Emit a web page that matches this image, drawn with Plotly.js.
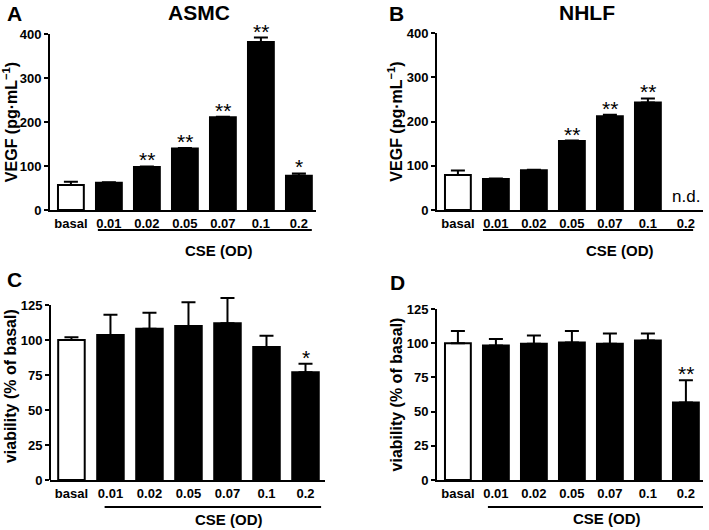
<!DOCTYPE html>
<html>
<head>
<meta charset="utf-8">
<script src="https://cdn.plot.ly/plotly-3.0.1.min.js"></script>
<style>html,body{margin:0;padding:0;background:#fff;}#chart{width:709px;height:530px;}</style>
</head>
<body>
<div id="chart"></div>
<script>
// ---- data ----
const categories = ['basal', '0.01', '0.02', '0.05', '0.07', '0.1', '0.2'];

const asmcVegf = [57, 62, 98, 140, 211, 382, 78];
const asmcVegfSem = [7, 1, 1, 1, 1, 10, 5];
const asmcVegfSig = ['', '', '**', '**', '**', '**', '*'];

const nhlfVegf = [79, 70, 90, 156, 212, 243, null];
const nhlfVegfSem = [10, 1, 1, 1, 3, 9, null];
const nhlfVegfSig = ['', '', '', '**', '**', '**', ''];
const nhlfNotDetected = ['', '', '', '', '', '', 'n.d.'];

const asmcViability = [100, 103.6, 108, 110, 112, 95, 77];
const asmcViabilitySem = [2, 14.5, 11.5, 17, 18, 8, 6];
const asmcViabilitySig = ['', '', '', '', '', '', '*'];

const nhlfViability = [100, 98.4, 99.6, 100.6, 99.6, 102, 56.6];
const nhlfViabilitySem = [9, 4.6, 6, 8.4, 7.4, 5, 16.4];
const nhlfViabilitySig = ['', '', '', '', '', '', '**'];

const vegfTicks = [0, 100, 200, 300, 400];
const viabTicks = [0, 25, 50, 75, 100, 125];

// ---- build ----
const FONT = 'Liberation Sans, Arial, sans-serif';
const W = 709, H = 530;
const px = v => v / W;
const py = v => (H - v) / H;

function barTrace(vals, sem, ax) {
  return {
    type: 'bar', x: categories, y: vals,
    xaxis: 'x' + ax, yaxis: 'y' + ax,
    width: 0.68, cliponaxis: false,
    marker: {
      color: categories.map(c => c === 'basal' ? '#ffffff' : '#000000'),
      line: {color: '#000', width: 2}
    },
    error_y: {
      type: 'data', symmetric: false,
      array: sem, arrayminus: sem.map(() => 0),
      color: '#000', thickness: 2, width: 7
    },
    hoverinfo: 'x+y', showlegend: false
  };
}

const traces = [
  barTrace(asmcVegf, asmcVegfSem, ''),
  barTrace(nhlfVegf, nhlfVegfSem, '2'),
  barTrace(asmcViability, asmcViabilitySem, '3'),
  barTrace(nhlfViability, nhlfViabilitySem, '4')
];

function xAxis(domain, range) {
  return {
    domain: domain, type: 'category', range: range,
    showline: true, linecolor: '#000', linewidth: 2,
    ticks: '', showgrid: false, zeroline: false,
    tickfont: {family: FONT, size: 13, color: '#000', weight: 'bold'},
    fixedrange: true
  };
}
function yAxis(domain, range, ticks, title, anchor, showline) {
  return {
    domain: domain, range: range, anchor: anchor,
    tickvals: ticks, ticktext: ticks.map(String),
    showline: showline, linecolor: '#000', linewidth: 2,
    ticks: 'outside', ticklen: 4, tickwidth: 2, tickcolor: '#000',
    showgrid: false, zeroline: false,
    tickfont: {family: FONT, size: 13, color: '#000', weight: 'bold'},
    title: {text: title, standoff: 0, font: {family: FONT, size: 16, color: '#000', weight: 'bold'}},
    fixedrange: true
  };
}

const annotations = [];
function sigAnnots(vals, sem, sig, xr, yr) {
  categories.forEach((c, i) => {
    if (!sig[i]) return;
    annotations.push({
      xref: xr, yref: yr, x: i, y: vals[i] + sem[i],
      text: sig[i], showarrow: false, yanchor: 'bottom', yshift: -7,
      font: {family: FONT, size: 21, color: '#000000'}
    });
  });
}
sigAnnots(asmcVegf, asmcVegfSem, asmcVegfSig, 'x', 'y');
sigAnnots(nhlfVegf, nhlfVegfSem, nhlfVegfSig, 'x2', 'y2');
sigAnnots(asmcViability, asmcViabilitySem, asmcViabilitySig, 'x3', 'y3');
sigAnnots(nhlfViability, nhlfViabilitySem, nhlfViabilitySig, 'x4', 'y4');
categories.forEach((c, i) => {
  if (!nhlfNotDetected[i]) return;
  annotations.push({
    xref: 'x2', yref: 'y2', x: i, y: 0, text: nhlfNotDetected[i], showarrow: false,
    yanchor: 'bottom', yshift: 2, font: {family: FONT, size: 17, color: '#000'}
  });
});

function txt(x, y, text, size, bold) {
  annotations.push({
    xref: 'paper', yref: 'paper', x: px(x), y: py(y), text: text, showarrow: false,
    xanchor: 'center', yanchor: 'middle',
    font: {family: FONT, size: size, color: '#000', weight: bold ? 'bold' : 'normal'}
  });
}
txt(15, 14, 'A', 21, true);
txt(396, 14, 'B', 21, true);
txt(14, 279, 'C', 21, true);
txt(397, 282, 'D', 21, true);
txt(199, 13, 'ASMC', 21, true);
txt(587, 13, 'NHLF', 21, true);

function cseLabel(xr, x, y) {
  annotations.push({
    xref: xr, yref: 'paper', x: x, y: py(y), text: 'CSE (OD)', showarrow: false,
    xanchor: 'center', yanchor: 'middle',
    font: {family: FONT, size: 15, color: '#000', weight: 'bold'}
  });
}
cseLabel('x', 3.9, 250);
cseLabel('x2', 4.27, 250);
cseLabel('x3', 4.05, 519);
cseLabel('x4', 3.92, 518);

function underline(xr, x0, x1, y) {
  return {type: 'line', xref: xr, yref: 'paper', x0: x0, x1: x1, y0: py(y), y1: py(y),
          line: {color: '#000', width: 2}};
}
// y-axis spine for panel C (its range extends above 125 so the tallest error bar is not clipped)
const spineC = {type: 'line', xref: 'x3 domain', yref: 'y3', x0: 0, x1: 0,
                y0: viabTicks[0], y1: viabTicks[viabTicks.length - 1],
                line: {color: '#000', width: 2}};
const shapes = [
  underline('x', 0.71, 6.34, 230),
  underline('x2', 0.66, 6.19, 230),
  underline('x3', 0.85, 6.4, 507),
  underline('x4', 0.79, 6.45, 507),
  spineC
];

const layout = {
  width: W, height: H,
  margin: {l: 0, r: 0, t: 0, b: 0},
  paper_bgcolor: '#fff', plot_bgcolor: '#fff',
  font: {family: FONT, color: '#000'},
  bargap: 0.3,
  showlegend: false,
  xaxis: Object.assign(xAxis([px(50), px(316)], [-0.55, 6.45]), {anchor: 'y'}),
  yaxis: yAxis([py(210), py(34)], [0, 400], vegfTicks, 'VEGF (pg·mL<sup>−1</sup>)', 'x', true),
  xaxis2: Object.assign(xAxis([px(437), px(703)], [-0.55, 6.45]), {anchor: 'y2'}),
  yaxis2: yAxis([py(210), py(33)], [0, 400], vegfTicks, 'VEGF (pg·mL<sup>−1</sup>)', 'x2', true),
  xaxis3: Object.assign(xAxis([px(50), px(325)], [-0.55, 6.5]), {anchor: 'y3'}),
  yaxis3: yAxis([py(480), py(305 - 1.4 * 9)], [0, 134], viabTicks, 'viability (% of basal)', 'x3', false),
  xaxis4: Object.assign(xAxis([px(437), px(703)], [-0.55, 6.45]), {anchor: 'y4'}),
  yaxis4: yAxis([py(480), py(309)], [0, 125], viabTicks, 'viability (% of basal)', 'x4', true),
  annotations: annotations,
  shapes: shapes
};

Plotly.newPlot('chart', traces, layout, {displayModeBar: false, staticPlot: true});
</script>
</body>
</html>
